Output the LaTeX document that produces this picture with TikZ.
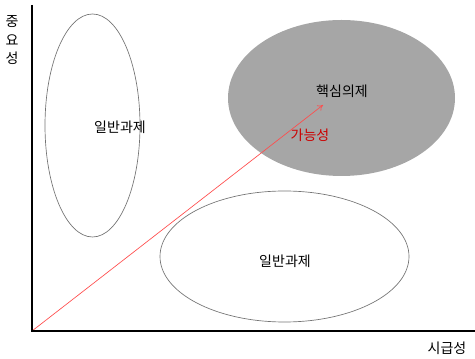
\documentclass[tikz,border=0pt]{standalone}
\usepackage{fontspec}
\setmainfont{Noto Sans CJK KR}
\usetikzlibrary{arrows.meta}
\begin{document}
\begin{tikzpicture}[x=0.75pt,y=-0.75pt,
  lbl/.style={font=\fontsize{10.5pt}{12pt}\selectfont, inner sep=0pt},
  oval/.style={draw=black!55, line width=0.5pt},
  axis/.style={line width=1.3pt, black}]
\useasboundingbox (0,0) rectangle (475,359);
\coordinate (O) at (32,331);
\coordinate (Ytop) at (32,5);
\coordinate (Xend) at (475,331);
\draw[oval] (92.5,125.5) ellipse [x radius=47.5, y radius=111.5];
\draw[oval, draw=none, fill=black!35] (341.5,98) ellipse [x radius=113.5, y radius=78];
\draw[oval] (284.5,256.5) ellipse [x radius=124.5, y radius=65.5];
\node[lbl] (a) at (120,127) {일반과제};
\node[lbl] (b) at (342,91) {핵심의제};
\node[lbl] (c) at (285,261) {일반과제};
\node[lbl, text=red!80!black] (d) at (310,135) {가능성};
\node[lbl] (e) at (447,348) {시급성};
\node[lbl] (f1) at (12,22) {중};
\node[lbl] (f2) at (12,40) {요};
\node[lbl] (f3) at (12,58) {성};
\coordinate (T) at (323,105);
\draw[red!70, line width=0.5pt, -{To[length=4pt,width=5pt]}] (O) -- (T);
\draw[axis] (Ytop) -- (O) -- (Xend);
\end{tikzpicture}
\end{document}
